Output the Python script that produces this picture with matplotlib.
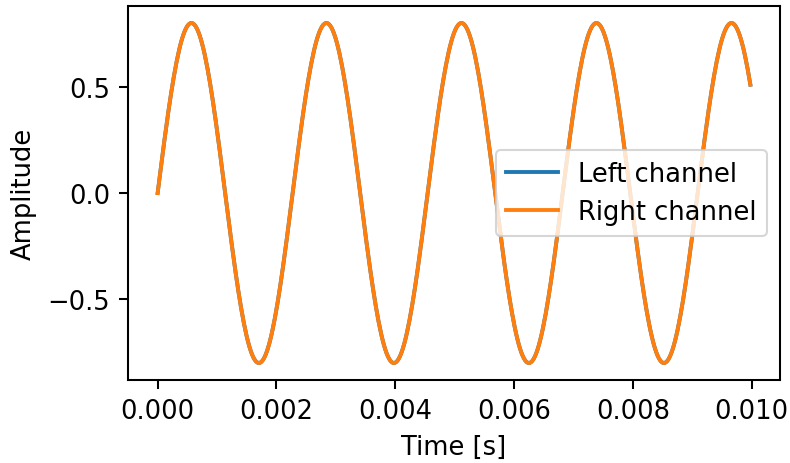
import numpy as np
import matplotlib
matplotlib.use("Agg")
import matplotlib.pyplot as plt
from matplotlib.ticker import MultipleLocator

# signal: 440 Hz tone, amplitude 0.8, 10 ms, 44.1 kHz
sample_rate = 44100
duration = 0.01
freq = 440.0
amp = 0.8

t = np.arange(int(sample_rate * duration)) / sample_rate
left = amp * np.sin(2 * np.pi * freq * t)
right = amp * np.sin(2 * np.pi * freq * t)

s = 1.85
fs = 10 * s

fig = plt.figure(figsize=(7.9, 4.64), dpi=100)
ax = fig.add_axes([128 / 790, 83 / 464, 652 / 790, 374 / 464])

ax.plot(t, left, label="Left channel", lw=1.5 * s)
ax.plot(t, right, label="Right channel", lw=1.5 * s)
ax.set_xlabel("Time [s]", fontsize=fs, labelpad=4 * s)
ax.set_ylabel("Amplitude", fontsize=fs, labelpad=4 * s)
ax.yaxis.set_major_locator(MultipleLocator(0.5))
ax.tick_params(labelsize=fs, length=3.5 * s, width=0.8 * s, pad=3.5 * s)
for sp in ax.spines.values():
    sp.set_linewidth(0.8 * s)
leg = ax.legend(loc="center right", fontsize=fs, borderaxespad=0.5, handlelength=2.0)
leg.get_frame().set_linewidth(0.8 * s)

fig.savefig("out.png", dpi=100)
